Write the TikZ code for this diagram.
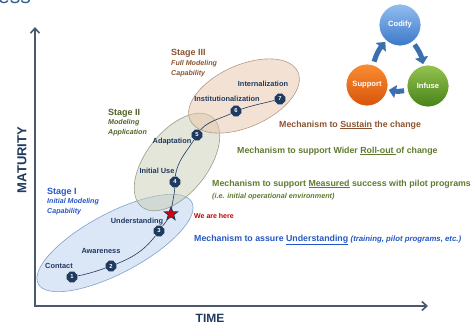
\documentclass[tikz,border=0pt]{standalone}
\usepackage{fontspec}
\setmainfont{Liberation Sans}
\usetikzlibrary{shapes.geometric,arrows.meta}
\definecolor{navy}{HTML}{1F3A5F}
\definecolor{axisc}{HTML}{4A5A6E}
\definecolor{brownc}{HTML}{8C5330}
\definecolor{olivec}{HTML}{4F6228}
\definecolor{olivem}{HTML}{5E7A2E}
\definecolor{bluec}{HTML}{2457C5}
\definecolor{redc}{HTML}{C00000}
\definecolor{arrc}{HTML}{3A6FB0}
\definecolor{titlec}{HTML}{2F5C8E}
\tikzset{
  axisline/.style={draw=axisc, line width=1.6pt, -{Straight Barb[length=5pt,width=9pt,line width=1.6pt]}},
  stageellipse/.style={line width=0.6pt},
  marker/.style={regular polygon, regular polygon sides=8, minimum size=12pt, inner sep=0pt,
    fill=navy, draw=white, line width=0.4pt, text=white, font=\fontsize{5.8}{6}\selectfont\bfseries},
  stepname/.style={inner sep=0pt, text=navy, font=\fontsize{7.4}{8}\selectfont\bfseries},
  stagehead/.style={inner sep=0pt, anchor=west, font=\fontsize{9}{10}\selectfont\bfseries},
  stagesub/.style={inner sep=0pt, anchor=west, font=\fontsize{7.1}{8}\selectfont\bfseries\itshape},
  mech/.style={inner sep=0pt, anchor=west, font=\fontsize{8.8}{10}\selectfont\bfseries},
  curvepath/.style={draw=navy, line width=0.6pt},
  cyclecircle/.style={circle, minimum size=42pt, inner sep=0pt, draw=white, line width=0.8pt,
    text=white, font=\fontsize{7.6}{9}\selectfont\bfseries},
  cyclearrow/.style={draw=arrc, line width=5pt, -{Triangle[width=13pt,length=7pt]}, shorten >=1pt, shorten <=3pt},
  axislabel/.style={inner sep=0pt, text=navy, font=\fontsize{12}{14}\selectfont\bfseries}
}
\begin{document}
\begin{tikzpicture}[x=1pt,y=1pt]
\useasboundingbox (0,0) rectangle (471,325);
% cut-off title
\node[anchor=base west, inner sep=0pt, text=titlec, font=\fontsize{21}{24}\selectfont] (title) at (-2,321) {ess};
% axes
\coordinate (origin) at (35,19);
\coordinate (ytop) at (35,298);
\coordinate (xend) at (428,19);
\draw[axisline] (origin) -- (ytop);
\draw[axisline] ([xshift=-0.8pt]origin) -- (xend);
\node[axislabel, rotate=90, font=\fontsize{13}{14}\selectfont\bfseries] (maturity) at (22,165) {MATURITY};
\node[axislabel] (time) at (210,7) {TIME};
% ellipses
\fill[stageellipse, fill={rgb,255:red,190;green,210;blue,238}, fill opacity=0.55, draw={rgb,255:red,130;green,160;blue,200}]
  (115,82) ellipse[x radius=87, y radius=30, rotate=28];
\fill[stageellipse, fill={rgb,255:red,200;green,205;blue,180}, fill opacity=0.5, draw={rgb,255:red,150;green,158;blue,135}]
  (177,163) ellipse[x radius=57, y radius=31, rotate=52];
\fill[stageellipse, fill={rgb,255:red,232;green,196;blue,168}, fill opacity=0.5, draw={rgb,255:red,180;green,155;blue,135}]
  (244,229) ellipse[x radius=59, y radius=31, rotate=24];
% markers positions
\coordinate (p1) at (72,48);
\coordinate (p2) at (111,59);
\coordinate (p3) at (159,94);
\coordinate (ps) at (171,111);
\coordinate (p4) at (175,143);
\coordinate (p5) at (197,190);
\coordinate (p6) at (236,214);
\coordinate (p7) at (280,226);
% path
\draw[curvepath] (p1) to[out=10,in=200] (p2) to[out=20,in=235] (p3) to[out=55,in=240] (ps)
  to[out=85,in=270] (p4) to[out=90,in=240] (p5) to[out=60,in=210] (p6) to[out=20,in=195] (p7);
\node[marker] (m1) at (p1) {1};
\node[marker] (m2) at (p2) {2};
\node[marker] (m3) at (p3) {3};
\node[marker] (m4) at (p4) {4};
\node[marker] (m5) at (p5) {5};
\node[marker] (m6) at (p6) {6};
\node[marker] (m7) at (p7) {7};
\node[star, star points=5, star point ratio=2.4, minimum size=14pt, inner sep=0pt, fill=red!85!black, draw=navy, line width=0.8pt] (star) at (ps) {};
% step names
\node[stepname] (contact) at (59,59) {Contact};
\node[stepname] (aware) at (101,74) {Awareness};
\node[stepname] (under) at (137,103) {Understanding};
\node[stepname] (initial) at (157,154) {Initial Use};
\node[stepname] (adapt) at (172,183) {Adaptation};
\node[stepname] (instit) at (227,226) {Institutionalization};
\node[stepname] (intern) at (263,241) {Internalization};
% stage labels
\node[stagehead, text=brownc] (s3) at (171,272) {Stage III};
\node[stagesub, text=brownc] (s3a) at (171,261) {Full Modeling};
\node[stagesub, text=brownc] (s3b) at (171,251) {Capability};
\node[stagehead, text=olivec] (s2) at (108,212) {Stage II};
\node[stagesub, text=olivec] (s2a) at (108,202) {Modeling};
\node[stagesub, text=olivec] (s2b) at (108,192) {Application};
\node[stagehead, text=bluec] (s1) at (47,133) {Stage I};
\node[stagesub, text=bluec] (s1a) at (47,123) {Initial Modeling};
\node[stagesub, text=bluec] (s1b) at (47,113) {Capability};
% mechanisms
\node[mech, text=brownc] (mech3) at (279,200) {Mechanism to \underline{Sustain} the change};
\node[mech, text=olivem] (mech2) at (237,174) {Mechanism to support Wider \underline{Roll-out\ }of change};
\node[mech, text=olivem] (mech1) at (212,141) {Mechanism to support \underline{Measured} success with pilot programs};
\node[mech, text=olivem, font=\fontsize{7.2}{8}\selectfont\bfseries\itshape] (mech1b) at (212,128) {(i.e. initial operational environment)};
\node[mech, text=redc, font=\fontsize{7}{8}\selectfont\bfseries] (here) at (194,109) {We are here};
\node[mech, text=bluec] (mech0) at (194,85) {Mechanism to assure \underline{Understanding} {\fontsize{7.8}{9}\selectfont\itshape (training, pilot programs, etc.)}};
% cycle
\node[cyclecircle, top color={rgb,255:red,145;green,190;blue,240}, bottom color={rgb,255:red,60;green,120;blue,200}] (codify) at (400,300) {Codify};
\node[cyclecircle, top color={rgb,255:red,250;green,140;blue,50}, bottom color={rgb,255:red,215;green,85;blue,10}] (support) at (367,240) {Support};
\node[cyclecircle, top color={rgb,255:red,150;green,195;blue,80}, bottom color={rgb,255:red,70;green,130;blue,25}] (infuse) at (428,239) {Infuse};
\draw[cyclearrow] (codify) to[bend left=12] (infuse);
\draw[cyclearrow] (infuse) to[bend left=12] (support);
\draw[cyclearrow] (support) to[bend left=12] (codify);
\end{tikzpicture}
\end{document}
